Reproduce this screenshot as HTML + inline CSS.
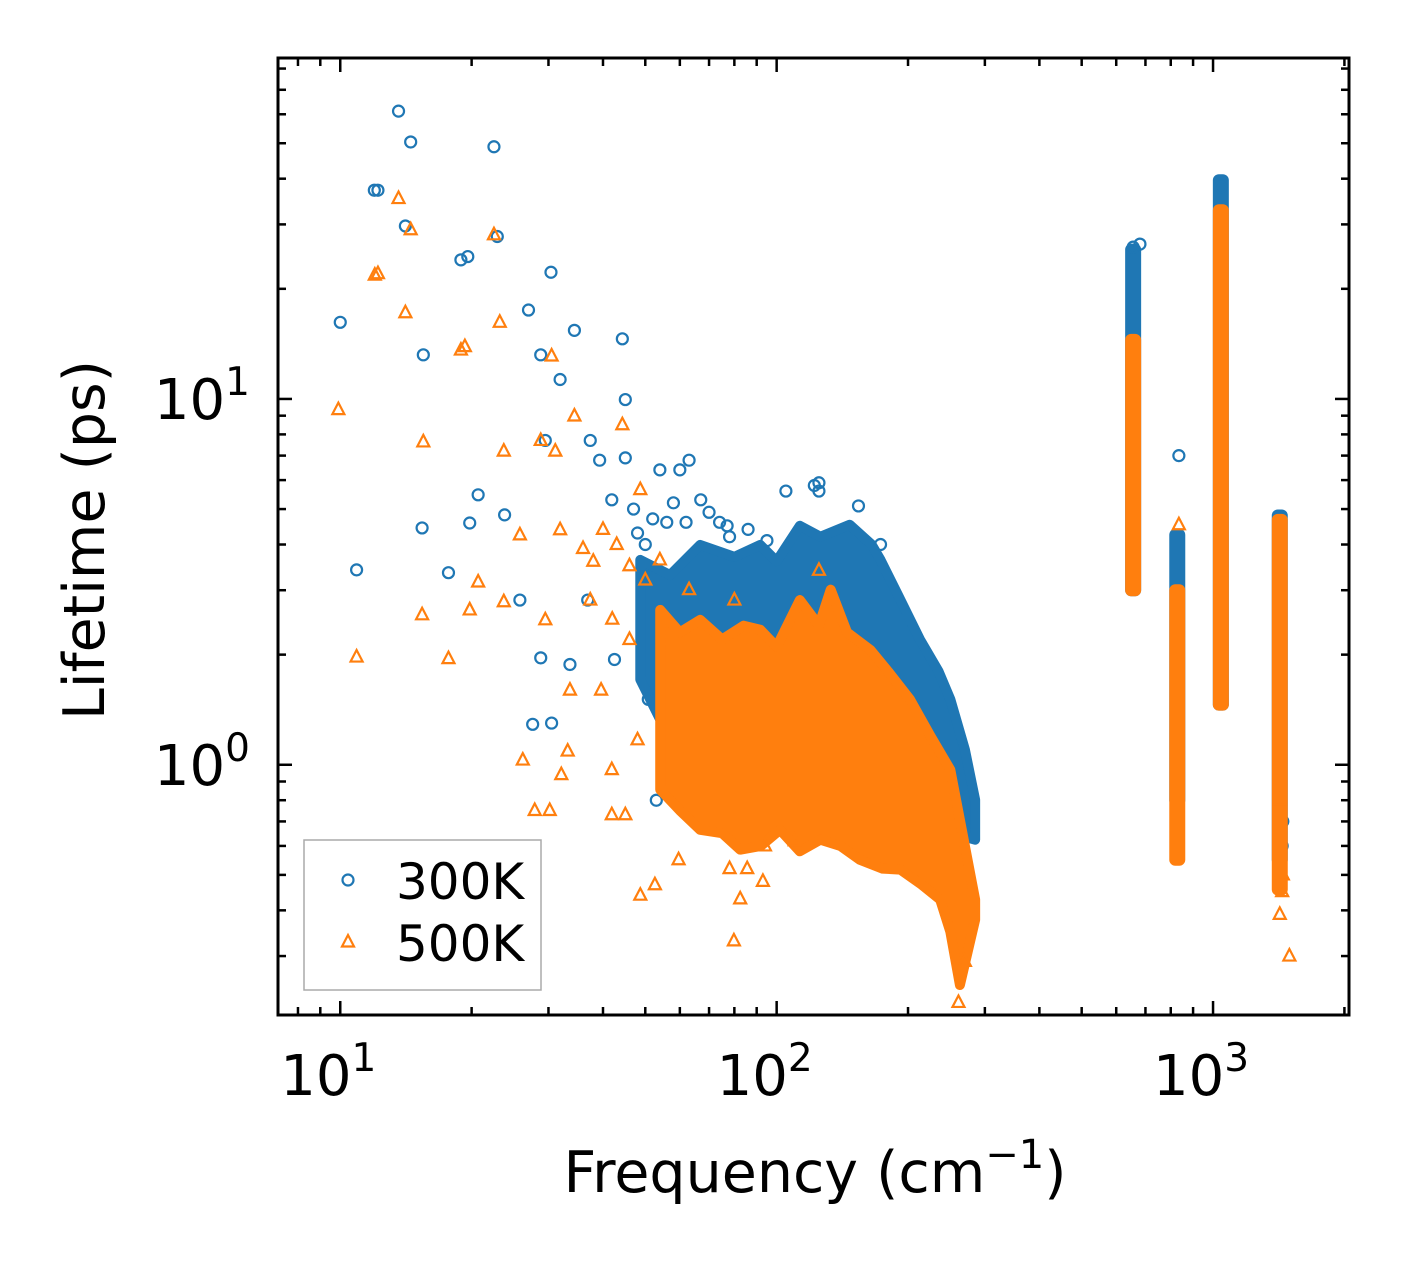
<!DOCTYPE html>
<html><head><meta charset="utf-8"><style>
html,body{margin:0;padding:0;background:#fff;}
svg text{font-family:"DejaVu Sans","Liberation Sans",sans-serif;fill:#000;}
</style></head><body>
<svg id="chart" width="1408" height="1265" xmlns="http://www.w3.org/2000/svg" style="position:absolute;left:0;top:0">
<g id="marks"></g>
<g id="axes"></g>
</svg>
<script>
// ---- data ----
const xTicks = [10, 100, 1000];
const yTicks = [1, 10];
const blueTopF = [48.7, 57, 66.8, 80, 91.7, 100, 113, 126, 147, 165, 173, 190, 213, 235, 250, 270, 285];
const blueTopL = [3.63, 3.3, 3.99, 3.7, 3.99, 3.6, 4.5, 4.2, 4.53, 4.0, 3.63, 2.9, 2.20, 1.8, 1.51, 1.1, 0.802];
const blueBotF = [285, 237, 192, 155, 126, 101.8, 82.5, 66.8, 54.1, 48.7];
const blueBotL = [0.624, 0.664, 0.855, 0.855, 0.969, 0.802, 0.855, 1.03, 1.33, 1.71];
const orTopF = [54.1, 60, 66.8, 75, 84, 91.7, 100, 113, 125, 133, 145, 164, 180, 202, 225, 250, 270, 285];
const orTopL = [2.65, 2.3, 2.49, 2.2, 2.4, 2.34, 2.1, 2.82, 2.4, 3.01, 2.3, 2.06, 1.8, 1.51, 1.2, 0.969, 0.6, 0.428];
const orBotF = [285, 263, 250, 237, 215, 192, 175, 155, 140, 126, 113, 101.8, 92, 82.5, 75, 66.8, 60, 54.1];
const orBotL = [0.377, 0.25, 0.35, 0.428, 0.47, 0.517, 0.52, 0.550, 0.6, 0.624, 0.58, 0.664, 0.6, 0.586, 0.65, 0.664, 0.75, 0.855];
const blueSpikeF = [656, 828, 1042, 1422];
const blueSpikeLo = [3.0, 0.80, 1.46, 0.55];
const blueSpikeHi = [25.6, 4.25, 39.6, 4.8];
const orSpikeF = [656, 828, 1042, 1422];
const orSpikeLo = [3.0, 0.55, 1.46, 0.456];
const orSpikeHi = [14.5, 3.0, 32.8, 4.67];
const blueF = [10,13.6,14.5,11.97,12.2,14.1,15.5,15.4,10.9,18.9,19.6,22.5,22.9,27.0,30.4,28.8,34.4,44.3,45.0,20.7,23.8,25.8,28.8,27.6,30.5,33.6,17.7,19.8,31.9,29.5,37.4,39.3,41.9,36.9,42.5,50.8,54,60,63,67,77,80,82,53,105,122,154,173,835,656,680,1042,1422,1445,1430,1440,47,52,58,62,70,74,78,86,95,125,125,45,48,50,56];
const blueL = [16.2,61.2,50.4,37.2,37.2,29.7,13.2,4.44,3.41,24.0,24.5,48.9,27.8,17.5,22.2,13.2,15.4,14.6,9.96,5.47,4.82,2.82,1.96,1.29,1.30,1.88,3.35,4.58,11.3,7.7,7.7,6.8,5.3,2.82,1.94,1.51,6.4,6.4,6.8,5.3,4.5,0.71,0.62,0.80,5.6,5.8,5.1,4.0,7.0,26,26.5,38,0.5,0.7,0.8,0.6,5.0,4.7,5.2,4.6,4.9,4.6,4.2,4.4,4.1,5.9,5.6,6.9,4.3,4.0,4.6];
const orF = [9.9,10.9,12.0,12.2,13.6,14.5,14.1,15.5,15.4,17.7,18.9,19.3,20.7,19.8,22.5,23.2,23.7,23.7,25.8,26.2,27.9,28.8,30.2,30.5,31.1,32.1,33.2,34.4,31.9,29.5,33.6,37.4,39.6,41.9,45.0,44.3,48.7,48.7,52.6,41.9,48,54,59.6,78,79.8,82.5,85.6,93,94,110,80,63,261,270,1496,835,1422,1422,1440,1445,40,43,46,50,38,36,42,46,125];
const orL = [9.35,1.97,21.8,22,35.3,29.0,17.2,7.63,2.57,1.95,13.6,13.9,3.16,2.65,28.1,16.2,7.2,2.79,4.25,1.03,0.75,7.7,0.75,13.1,7.2,0.94,1.09,8.98,4.39,2.49,1.6,2.82,1.6,0.73,0.73,8.5,5.65,0.44,0.47,0.97,1.17,3.63,0.55,0.52,0.33,0.43,0.52,0.48,0.6,0.62,2.82,3.01,0.224,0.29,0.30,4.53,0.39,0.8,0.45,0.5,4.4,4.0,3.5,3.2,3.6,3.9,2.5,2.2,3.4];

const X0=278, X1=1349, Y0=58, Y1=1015;
const xmin=Math.log10(7.2), xmax=Math.log10(2049), ymin=Math.log10(0.207), ymax=Math.log10(85.5);
const sx = f => X0 + (Math.log10(f)-xmin)/(xmax-xmin)*(X1-X0);
const sy = l => Y1 - (Math.log10(l)-ymin)/(ymax-ymin)*(Y1-Y0);
const NS="http://www.w3.org/2000/svg";
const marks=document.getElementById('marks'), axes=document.getElementById('axes');
function mk(tag, attrs, parent){const e=document.createElementNS(NS,tag);for(const k in attrs)e.setAttribute(k,attrs[k]);parent.appendChild(e);return e;}
const BLUE="#1f77b4", OR="#ff7f0e";

function poly(tf,tl,bf,bl,col,name){
  const pts=[];for(let i=0;i<tf.length;i++)pts.push(sx(tf[i])+','+sy(tl[i]));
  for(let i=0;i<bf.length;i++)pts.push(sx(bf[i])+','+sy(bl[i]));
  const p=mk('polygon',{points:pts.join(' '),fill:col,stroke:col,'stroke-width':10,'stroke-linejoin':'round'},marks);
  
  
}
function spikes(F,lo,hi,col,name){
  for(let i=0;i<F.length;i++){
    const r=mk('rect',{x:sx(F[i])-8,y:sy(hi[i])-6,width:16,height:sy(lo[i])-sy(hi[i])+12,fill:col,rx:6},marks);
    
    
  }
}
function circ(F,L){
  for(let i=0;i<F.length;i++){
    const c=mk('circle',{cx:sx(F[i]),cy:sy(L[i]),r:5.5,fill:'none',stroke:BLUE,'stroke-width':2.2},marks);
    
    
  }
}
function tri(F,L){
  for(let i=0;i<F.length;i++){
    const x=sx(F[i]),y=sy(L[i]);
    const t=mk('polygon',{points:`${x},${y-7} ${x-6},${y+4.5} ${x+6},${y+4.5}`,fill:'none',stroke:OR,'stroke-width':2.2},marks);
    
    
  }
}
poly(blueTopF,blueTopL,blueBotF,blueBotL,BLUE,'cloud-300k');
spikes(blueSpikeF,blueSpikeLo,blueSpikeHi,BLUE,'spike-300k');
circ(blueF,blueL);
poly(orTopF,orTopL,orBotF,orBotL,OR,'cloud-500k');
spikes(orSpikeF,orSpikeLo,orSpikeHi,OR,'spike-500k');
tri(orF,orL);

const fr=mk('rect',{x:X0,y:Y0,width:X1-X0,height:Y1-Y0,fill:'none',stroke:'#000','stroke-width':3},axes);


for(let d=0;d<=4;d++){for(let m=1;m<10;m++){
  const v=m*Math.pow(10,d); const x=sx(v); if(x<X0||x>X1)continue;
  const len=m==1?14:8;
  mk('line',{x1:x,y1:Y1,x2:x,y2:Y1-len,stroke:'#000','stroke-width':2.5},axes);
  mk('line',{x1:x,y1:Y0,x2:x,y2:Y0+len,stroke:'#000','stroke-width':2.5},axes);
}}
for(let d=-1;d<=2;d++){for(let m=1;m<10;m++){
  const v=m*Math.pow(10,d); const y=sy(v); if(y<Y0||y>Y1)continue;
  const len=m==1?14:8;
  mk('line',{x1:X0,y1:y,x2:X0+len,y2:y,stroke:'#000','stroke-width':2.5},axes);
  mk('line',{x1:X1,y1:y,x2:X1-len,y2:y,stroke:'#000','stroke-width':2.5},axes);
}}
xTicks.forEach(v=>{
  const t=mk('text',{x:sx(v)-12,y:1095,'font-size':56,'text-anchor':'middle'},axes);
  t.innerHTML='10<tspan dy="-24" font-size="39">'+Math.round(Math.log10(v))+'</tspan>';
  
  
});
yTicks.forEach(v=>{
  const t=mk('text',{x:250,y:sy(v)+20,'font-size':56,'text-anchor':'end'},axes);
  t.innerHTML='10<tspan dy="-24" font-size="39">'+Math.round(Math.log10(v))+'</tspan>';
  
  
});
</script>
<svg style="position:absolute;left:0;top:0" width="1408" height="1265" xmlns="http://www.w3.org/2000/svg">
<text x="815" y="1192" font-size="57" text-anchor="middle">Frequency (cm<tspan dy="-24" font-size="40">−1</tspan><tspan dy="24">)</tspan></text>
<text transform="translate(104,540) rotate(-90)" font-size="57" text-anchor="middle">Lifetime (ps)</text>
<g>
<rect x="304" y="840" width="237" height="150" fill="#fff" fill-opacity="0.8" stroke="#aaa" stroke-width="1.5"/>
<circle cx="348" cy="880" r="5.5" fill="none" stroke="#1f77b4" stroke-width="2.2"/>
<text x="396" y="899" font-size="50">300K</text>
<polygon points="348,935 342,946.5 354,946.5" fill="none" stroke="#ff7f0e" stroke-width="2.2"/>
<text x="396" y="961" font-size="50">500K</text>
</g>
</svg>
</body></html>
